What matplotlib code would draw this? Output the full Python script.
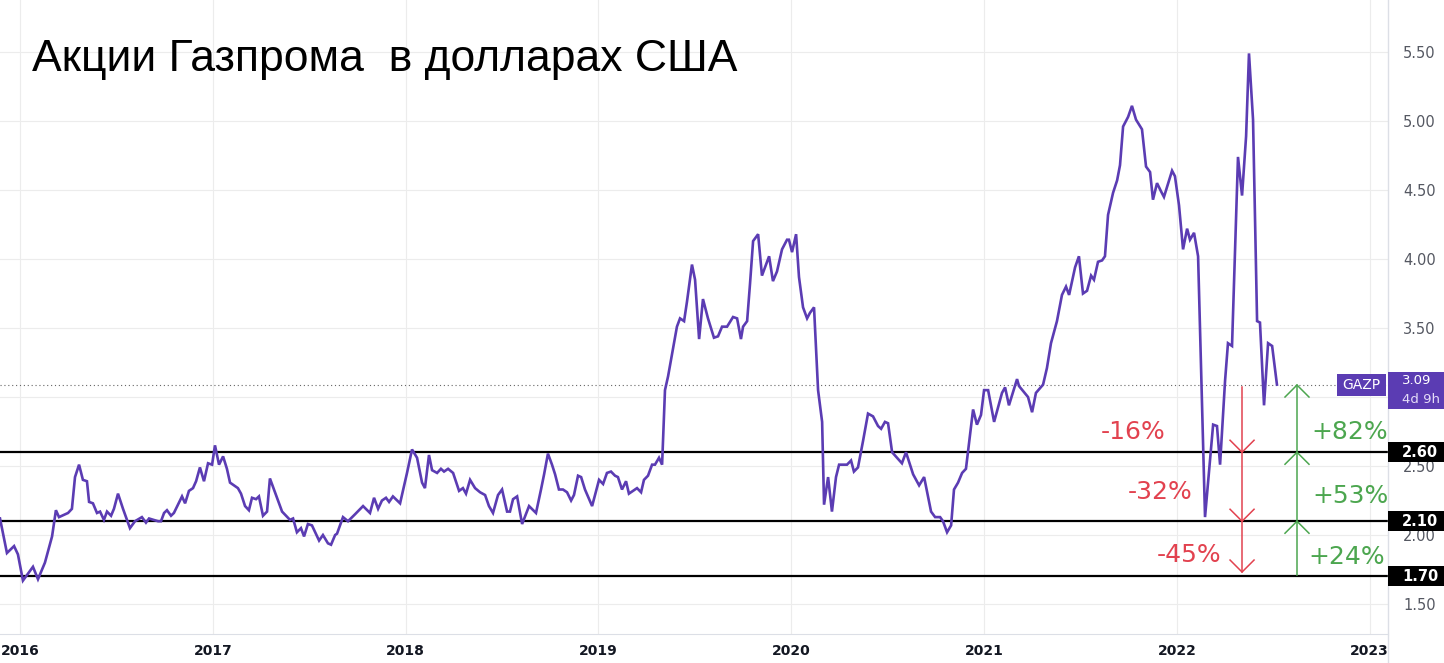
import matplotlib
matplotlib.use("Agg")
import matplotlib.pyplot as plt
import matplotlib.transforms as mtransforms
from matplotlib.patches import Rectangle
from matplotlib.lines import Line2D

# weekly closes of GAZP in USD, position given as decimal year
years = [
    2015.896, 2015.932, 2015.969, 2015.989, 2016.015, 2016.067, 2016.093, 2016.129,
    2016.166, 2016.186, 2016.202, 2016.249, 2016.269, 2016.285, 2016.306, 2016.326,
    2016.347, 2016.358, 2016.378, 2016.399, 2016.415, 2016.435, 2016.451, 2016.472,
    2016.487, 2016.508, 2016.534, 2016.570, 2016.596, 2016.632, 2016.653, 2016.669,
    2016.716, 2016.731, 2016.747, 2016.762, 2016.783, 2016.798, 2016.840, 2016.856,
    2016.876, 2016.897, 2016.913, 2016.933, 2016.954, 2016.975, 2016.996, 2017.011,
    2017.032, 2017.053, 2017.073, 2017.089, 2017.130, 2017.146, 2017.167, 2017.187,
    2017.203, 2017.224, 2017.239, 2017.260, 2017.281, 2017.296, 2017.322, 2017.359,
    2017.400, 2017.416, 2017.436, 2017.457, 2017.473, 2017.493, 2017.514, 2017.551,
    2017.571, 2017.597, 2017.613, 2017.634, 2017.644, 2017.675, 2017.701, 2017.737,
    2017.779, 2017.815, 2017.836, 2017.857, 2017.877, 2017.898, 2017.914, 2017.934,
    2017.971, 2018.007, 2018.033, 2018.059, 2018.085, 2018.100, 2018.121, 2018.137,
    2018.163, 2018.183, 2018.199, 2018.220, 2018.246, 2018.277, 2018.297, 2018.313,
    2018.334, 2018.360, 2018.386, 2018.412, 2018.432, 2018.453, 2018.479, 2018.500,
    2018.526, 2018.541, 2018.557, 2018.578, 2018.604, 2018.640, 2018.676, 2018.702,
    2018.718, 2018.738, 2018.759, 2018.775, 2018.795, 2018.816, 2018.837, 2018.858,
    2018.873, 2018.894, 2018.910, 2018.930, 2018.967, 2019.003, 2019.024, 2019.044,
    2019.065, 2019.086, 2019.101, 2019.122, 2019.143, 2019.158, 2019.200, 2019.221,
    2019.236, 2019.257, 2019.278, 2019.293, 2019.314, 2019.330, 2019.345, 2019.361,
    2019.407, 2019.423, 2019.444, 2019.459, 2019.485, 2019.501, 2019.522, 2019.542,
    2019.568, 2019.599, 2019.620, 2019.641, 2019.667, 2019.698, 2019.719, 2019.739,
    2019.750, 2019.771, 2019.786, 2019.802, 2019.828, 2019.848, 2019.885, 2019.905,
    2019.926, 2019.952, 2019.978, 2019.988, 2020.004, 2020.025, 2020.040, 2020.061,
    2020.082, 2020.097, 2020.118, 2020.139, 2020.160, 2020.170, 2020.191, 2020.211,
    2020.232, 2020.248, 2020.289, 2020.310, 2020.325, 2020.346, 2020.372, 2020.398,
    2020.424, 2020.450, 2020.466, 2020.486, 2020.502, 2020.523, 2020.574, 2020.595,
    2020.632, 2020.663, 2020.689, 2020.725, 2020.746, 2020.772, 2020.787, 2020.808,
    2020.829, 2020.844, 2020.865, 2020.886, 2020.906, 2020.943, 2020.963, 2020.984,
    2021.000, 2021.021, 2021.052, 2021.093, 2021.109, 2021.129, 2021.171, 2021.181,
    2021.228, 2021.249, 2021.269, 2021.306, 2021.326, 2021.347, 2021.378, 2021.404,
    2021.425, 2021.441, 2021.472, 2021.492, 2021.513, 2021.534, 2021.555, 2021.570,
    2021.591, 2021.612, 2021.627, 2021.643, 2021.669, 2021.690, 2021.705, 2021.721,
    2021.747, 2021.767, 2021.788, 2021.819, 2021.840, 2021.861, 2021.876, 2021.897,
    2021.918, 2021.933, 2021.975, 2021.990, 2022.011, 2022.032, 2022.053, 2022.068,
    2022.089, 2022.110, 2022.146, 2022.188, 2022.208, 2022.224, 2022.250, 2022.265,
    2022.286, 2022.317, 2022.338, 2022.359, 2022.374, 2022.395, 2022.416, 2022.431,
    2022.452, 2022.473, 2022.494, 2022.519,
]
prices = [
    2.12, 1.87, 1.92, 1.86, 1.67, 1.77, 1.68, 1.80,
    1.99, 2.18, 2.13, 2.16, 2.19, 2.42, 2.51, 2.40,
    2.39, 2.24, 2.23, 2.16, 2.17, 2.11, 2.17, 2.14,
    2.19, 2.30, 2.19, 2.05, 2.10, 2.13, 2.09, 2.12,
    2.10, 2.10, 2.16, 2.18, 2.14, 2.16, 2.28, 2.23,
    2.32, 2.34, 2.39, 2.49, 2.39, 2.52, 2.51, 2.65,
    2.51, 2.57, 2.48, 2.38, 2.34, 2.30, 2.21, 2.18,
    2.27, 2.26, 2.28, 2.14, 2.17, 2.41, 2.31, 2.17,
    2.11, 2.12, 2.02, 2.05, 1.99, 2.08, 2.07, 1.96,
    2.00, 1.94, 1.93, 2.00, 2.01, 2.13, 2.10, 2.15,
    2.21, 2.16, 2.27, 2.19, 2.25, 2.27, 2.24, 2.28,
    2.23, 2.45, 2.62, 2.56, 2.38, 2.34, 2.58, 2.47,
    2.45, 2.48, 2.46, 2.48, 2.45, 2.32, 2.34, 2.30,
    2.40, 2.34, 2.31, 2.29, 2.21, 2.16, 2.29, 2.33,
    2.17, 2.17, 2.26, 2.28, 2.08, 2.21, 2.16, 2.33,
    2.44, 2.59, 2.51, 2.44, 2.33, 2.33, 2.31, 2.25,
    2.29, 2.43, 2.42, 2.33, 2.21, 2.40, 2.37, 2.45,
    2.46, 2.43, 2.42, 2.33, 2.39, 2.30, 2.34, 2.31,
    2.40, 2.43, 2.51, 2.51, 2.56, 2.51, 3.05, 3.15,
    3.51, 3.57, 3.55, 3.69, 3.96, 3.85, 3.42, 3.71,
    3.57, 3.43, 3.44, 3.51, 3.51, 3.58, 3.57, 3.42,
    3.51, 3.55, 3.82, 4.13, 4.18, 3.88, 4.02, 3.84,
    3.91, 4.07, 4.14, 4.14, 4.05, 4.18, 3.87, 3.65,
    3.57, 3.61, 3.65, 3.05, 2.82, 2.22, 2.42, 2.17,
    2.42, 2.51, 2.51, 2.54, 2.46, 2.49, 2.68, 2.88,
    2.86, 2.79, 2.77, 2.82, 2.81, 2.60, 2.52, 2.60,
    2.44, 2.36, 2.42, 2.17, 2.13, 2.13, 2.10, 2.02,
    2.07, 2.33, 2.38, 2.45, 2.48, 2.91, 2.80, 2.87,
    3.05, 3.05, 2.82, 3.03, 3.07, 2.94, 3.13, 3.08,
    3.00, 2.89, 3.03, 3.09, 3.21, 3.39, 3.55, 3.74,
    3.80, 3.74, 3.94, 4.02, 3.75, 3.77, 3.88, 3.85,
    3.98, 3.99, 4.02, 4.32, 4.48, 4.57, 4.68, 4.96,
    5.03, 5.11, 5.01, 4.94, 4.67, 4.63, 4.43, 4.55,
    4.49, 4.45, 4.64, 4.60, 4.39, 4.07, 4.22, 4.14,
    4.19, 4.02, 2.13, 2.80, 2.79, 2.51, 3.12, 3.39,
    3.37, 4.74, 4.46, 4.89, 5.49, 5.01, 3.55, 3.54,
    2.94, 3.39, 3.37, 3.09,
]

ticker = "GAZP"
last_price = 3.09
countdown = "4d 9h"
levels = [2.60, 2.10, 1.70]
drops = ["-16%", "-32%", "-45%"]
gains = ["+82%", "+53%", "+24%"]
year_ticks = [2016, 2017, 2018, 2019, 2020, 2021, 2022, 2023]
price_ticks = [1.5, 2.0, 2.5, 3.0, 3.5, 4.0, 4.5, 5.0, 5.5]
title = "Акции Газпрома  в долларах США"

purple = "#5b3cb3"
red = "#e2424f"
green = "#4ca64f"

W, H = 1444, 663
fig = plt.figure(figsize=(W / 100, H / 100), dpi=100)
fig.patch.set_facecolor("white")
ax = fig.add_axes([0, 29 / H, 1388 / W, 634 / H])

ax.set_xlim(2015.896, 2023.095)
ax.set_ylim(1.283, 5.877)

ax.plot(years, prices, color=purple, lw=1.9, zorder=4, solid_joinstyle="miter")

# grid; the 3.00 label sits under the last-price tag, so it is left blank
ax.set_xticks(year_ticks)
ax.set_xticklabels([str(y) for y in year_ticks])
ax.set_yticks(price_ticks)
ax.set_yticklabels(["" if abs(p - 3.0) < 1e-9 else "%.2f" % p for p in price_ticks])
ax.grid(True, color="#ececec", lw=0.8, zorder=0)
ax.tick_params(axis="x", length=0, pad=7, labelsize=10, labelcolor="#131722")
for lab in ax.get_xticklabels():
    lab.set_fontweight("bold")
ax.yaxis.tick_right()
ax.tick_params(axis="y", length=0, pad=11, labelsize=10.5, labelcolor="#555862")

for s in ["top", "left", "right"]:
    ax.spines[s].set_visible(False)
ax.spines["bottom"].set_color("#dcdfe6")
fig.add_artist(Line2D([1388 / W, 1388 / W], [0, 1], color="#dcdfe6", lw=1.0))

# support levels and last price line
for lv in levels:
    ax.axhline(lv, color="black", lw=1.6, zorder=3)
ax.axhline(last_price, color="#666666", lw=0.8, ls=(0, (1, 2.5)), zorder=2)

# arrows: drop from current price (red) and rise from each level (green)
px_x = 7.199 / 1388
px_y = (5.877 - 1.283) / 634
x_red = 2022.338
x_green = 2022.623
cw = 12 * px_x
ch = 12 * px_y

ax.plot([x_red, x_red], [3.072, 1.732], color=red, lw=1.1, zorder=5)
for tip in [levels[0], levels[1], 1.732]:
    ax.plot([x_red - cw, x_red, x_red + cw], [tip + ch, tip, tip + ch],
            color=red, lw=1.1, zorder=5)

ax.plot([x_green, x_green], [1.710, 3.087], color=green, lw=1.1, zorder=5)
for tip in [3.087, levels[0], levels[1]]:
    ax.plot([x_green - cw, x_green, x_green + cw], [tip - ch, tip, tip - ch],
            color=green, lw=1.1, zorder=5)

drop_pos = [(2021.773, 2.746), (2021.913, 2.312), (2022.063, 1.855)]
for txt, (xx, yy) in zip(drops, drop_pos):
    ax.text(xx, yy, txt, color=red, fontsize=18, ha="center", va="center", zorder=6)
gain_pos = [(2022.898, 2.746), (2022.898, 2.283), (2022.883, 1.841)]
for txt, (xx, yy) in zip(gains, gain_pos):
    ax.text(xx, yy, txt, color=green, fontsize=18, ha="center", va="center", zorder=6)

# price-scale labels
tr = mtransforms.blended_transform_factory(fig.transFigure, ax.transData)
x0 = 1388 / W
for lv in levels:
    fig.add_artist(Rectangle((x0, lv - 10 * px_y), 1 - x0, 20 * px_y,
                             transform=tr, facecolor="black", edgecolor="none", zorder=5))
    fig.text(1402 / W, lv, "%.2f" % lv, transform=tr, color="white", fontsize=10.5,
             fontweight="bold", ha="left", va="center", zorder=6)

fig.add_artist(Rectangle((x0, last_price - 24 * px_y), 1 - x0, 37 * px_y,
                         transform=tr, facecolor=purple, edgecolor="none", zorder=5))
fig.text(1402 / W, last_price + 4 * px_y, "%.2f" % last_price, transform=tr,
         color="white", fontsize=9.5, ha="left", va="center", zorder=6)
fig.text(1402 / W, last_price - 15 * px_y, countdown, transform=tr,
         color="#e4dcf7", fontsize=9.5, ha="left", va="center", zorder=6)

fig.add_artist(Rectangle((1337 / W, last_price - 11 * px_y), 49 / W, 22 * px_y,
                         transform=tr, facecolor=purple, edgecolor="none", zorder=5))
fig.text(1361.5 / W, last_price, ticker, transform=tr, color="white", fontsize=10,
         ha="center", va="center", zorder=6)

fig.text(32 / W, 1 - 71 / H, title, family=["Liberation Sans", "DejaVu Sans"],
         fontsize=32, color="black", ha="left", va="baseline")

fig.savefig("out.png", dpi=100)
